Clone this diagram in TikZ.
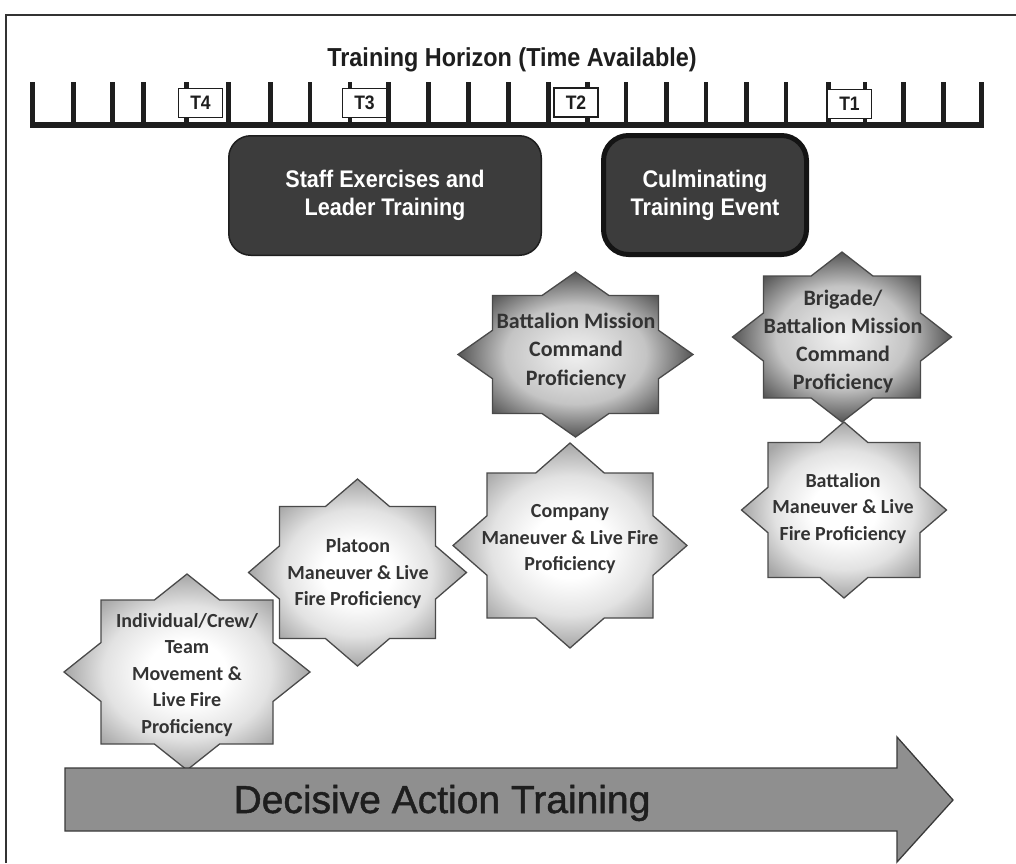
\documentclass[tikz,border=0pt]{standalone}
\usepackage{fontspec}
\setmainfont{Liberation Sans}
\newfontfamily\condfont[FakeStretch=0.9]{Liberation Sans}
\newfontfamily\heavyfont[FakeBold=1.2]{Liberation Sans}
\newfontfamily\starfont{Carlito}
\definecolor{boxfill}{HTML}{3C3C3C}
\definecolor{inkdark}{HTML}{1E1E1E}
\definecolor{startext}{HTML}{333333}
\definecolor{starline}{HTML}{4A4A4A}
\definecolor{lightedge}{HTML}{A6A6A6}
\definecolor{lightmid}{HTML}{E2E2E2}
\definecolor{darkedge}{HTML}{555555}
\definecolor{darkmid}{HTML}{C4C4C4}
\definecolor{arrowfill}{HTML}{8F8F8F}
\definecolor{arrowline}{HTML}{3A3A3A}
\definecolor{framecol}{HTML}{333333}
\pgfdeclareradialshading{lightstar}{\pgfpoint{0bp}{0bp}}{color(0bp)=(white); color(8bp)=(white); color(17bp)=(lightmid); color(25bp)=(lightedge); color(50bp)=(lightedge)}
\pgfdeclareradialshading{darkstar}{\pgfpoint{0bp}{0bp}}{color(0bp)=(white!94!black); color(6bp)=(white!88!black); color(15bp)=(darkmid); color(25bp)=(darkedge); color(50bp)=(darkedge)}
\newcommand\octastar[7]{%
 \pgfmathsetmacro\octP{#6*(1-#3/#5)}%
 \pgfmathsetmacro\octQ{#5*(1-#4/#6)}%
 \path[shading=#7, shade, draw=starline, line width=1.3pt, line join=miter]
  (#1+#5,#2) -- (#1+#3,#2+\octP) -- (#1+#3,#2+#4) -- (#1+\octQ,#2+#4) -- (#1,#2+#6) -- (#1-\octQ,#2+#4) -- (#1-#3,#2+#4) -- (#1-#3,#2+\octP) -- (#1-#5,#2) -- (#1-#3,#2-\octP) -- (#1-#3,#2-#4) -- (#1-\octQ,#2-#4) -- (#1,#2-#6) -- (#1+\octQ,#2-#4) -- (#1+#3,#2-#4) -- (#1+#3,#2-\octP) -- cycle;}
\begin{document}
\begin{tikzpicture}[x=1pt,y=-1pt,
  tickline/.style={line width=4.8pt, draw=inkdark},
  tbox/.style={draw=inkdark, line width=1.6pt, fill=white, minimum width=44pt, minimum height=29pt, inner sep=0pt, font=\condfont\bfseries\fontsize{19.5}{22}\selectfont, text=inkdark},
  darkbox/.style={fill=boxfill, draw=inkdark, line width=1.5pt, rounded corners=22pt, text=white, align=center, inner sep=0pt, font=\condfont\bfseries\fontsize{24}{28}\selectfont},
  startxt/.style={align=center, inner sep=0pt, text=startext, font=\starfont\bfseries\fontsize{20}{26.5}\selectfont},
  startxtbig/.style={align=center, inner sep=0pt, text=startext, font=\starfont\bfseries\fontsize{22}{28.3}\selectfont}
]
\fill[white] (0,0) rectangle (1016,863);
\useasboundingbox (0,0) rectangle (1016,863);
% frame
\draw[draw=framecol, line width=2pt] (6,863) -- (6,15) -- (1016,15);
% title
\node[anchor=base, text=inkdark, font=\condfont\bfseries\fontsize{26}{30}\selectfont] (title) at (512,66.5) {Training Horizon (Time Available)};
% timeline
\draw[line width=6.5pt, draw=inkdark] (30.3,125) -- (984.1,125);
\foreach \tx in {32.7,73.3,112.7,143.3,186.7,228.3,270.7,310,350,388.3,428.3,468.3,508.3,548.3,587.3,626,666.7,706,746.7,786,828.3,865,903.3,943.3,981.7}
  \draw[tickline] (\tx,82) -- (\tx,125);
\node[tbox] (t4) at (200.5,103) {T4};
\node[tbox] (t3) at (364.5,103) {T3};
\node[tbox] (t2) at (576,102.5) {T2};
\node[tbox] (t1) at (849.5,104) {T1};
% dark boxes
\node[darkbox, minimum width=312.5pt, minimum height=119.5pt] (sel) at (385,195.5) {Staff Exercises and\\Leader Training};
\node[darkbox, line width=5pt, draw=black!92, rounded corners=25pt, minimum width=203pt, minimum height=119pt] (cte) at (705,195) {Culminating\\Training Event};
% stars
\octastar{187}{672}{86}{72}{123}{98}{lightstar}
\octastar{357.5}{572.5}{78}{66}{109}{93.5}{lightstar}
\octastar{570}{545.5}{83}{72.5}{117}{102.5}{lightstar}
\octastar{575.5}{354.5}{83}{59}{117.5}{82.5}{darkstar}
\octastar{842}{337}{78.5}{61}{109.5}{85}{darkstar}
\octastar{844}{510}{76}{67.5}{102.5}{88}{lightstar}
\node[startxt] (s1) at (187,675) {Individual/Crew/\\Team\\Movement \&\\Live Fire\\Proficiency};
\node[startxt] (s2) at (358,574) {Platoon\\Maneuver \& Live\\Fire Proficiency};
\node[startxt] (s3) at (570,539.5) {Company\\Maneuver \& Live Fire\\Proficiency};
\node[startxtbig] (s4) at (576,351) {Battalion Mission\\Command\\Proficiency};
\node[startxtbig] (s5) at (843,341.5) {Brigade/\\Battalion Mission\\Command\\Proficiency};
\node[startxt] (s6) at (843,508.5) {Battalion\\Maneuver \& Live\\Fire Proficiency};
% arrow
\path[draw=arrowline, line width=1.3pt, fill=arrowfill, line join=miter] (65,768) -- (897,768) -- (897,737) -- (953,800) -- (897,862) -- (897,831) -- (65,831) -- cycle;
\node[anchor=base, text=inkdark, font=\heavyfont\fontsize{39}{44}\selectfont] (dat) at (442,813) {Decisive Action Training};
\end{tikzpicture}
\end{document}
